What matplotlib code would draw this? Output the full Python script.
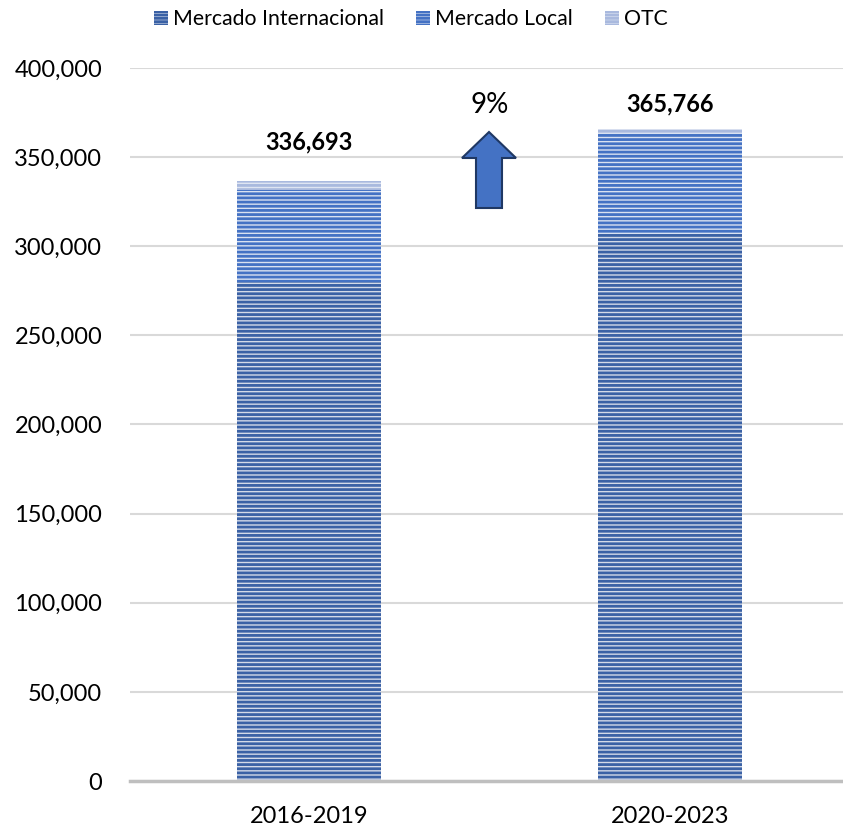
import matplotlib
matplotlib.use("Agg")
import matplotlib.pyplot as plt
from matplotlib.patches import Patch, Polygon
from matplotlib.ticker import FuncFormatter
import numpy as np

categories = ["2016-2019", "2020-2023"]
series_names = ["Mercado Internacional", "Mercado Local", "OTC"]
internacional = [280000, 307000]
local = [51693, 56266]
otc = [5000, 2500]
totals = [336693, 365766]
change_label = "9%"
yticks = [0, 50000, 100000, 150000, 200000, 250000, 300000, 350000, 400000]

plt.rcParams['font.family'] = ['Lato', 'DejaVu Sans']
plt.rcParams['hatch.linewidth'] = 2.0

W, H = 843, 830
fig = plt.figure(figsize=(W / 100, H / 100), dpi=100)
ax = fig.add_axes([130 / W, 1 - 781 / H, 713 / W, 713 / H])

stripe = ['#3A61A5', '#4472C4', '#A9B9DE']
back = ['#D3DAE8', '#DAE2F1', '#DFE5F2']
x = np.arange(len(categories))
width = 0.4
bottom = np.zeros(len(categories))
for vals, sc, bc in zip([internacional, local, otc], stripe, back):
    ax.bar(x, vals, width, bottom=bottom, color=bc, edgecolor=sc,
           hatch='----', linewidth=0, zorder=3)
    bottom += np.array(vals)

offsets = [20, 10]
for xi, t, off in zip(x, totals, offsets):
    ax.annotate(f"{t:,}", (xi, t), xytext=(0, off), textcoords='offset points',
                ha='center', va='bottom', fontsize=17, fontweight='bold')

ax.set_xlim(-0.496, 1.479)
ax.set_ylim(0, 400000)
ax.set_yticks(yticks)
ax.yaxis.set_major_formatter(FuncFormatter(lambda v, p: f"{int(v):,}"))
ax.set_xticks(x)
ax.set_xticklabels(categories)
ax.tick_params(axis='both', length=0, labelsize=17)
ax.tick_params(axis='y', pad=20)
ax.tick_params(axis='x', pad=18)
ax.grid(axis='y', color='#D9D9D9', linewidth=1.5, zorder=0)
ax.set_axisbelow(True)
for s in ['top', 'right', 'left']:
    ax.spines[s].set_visible(False)
ax.spines['bottom'].set_color('#BFBFBF')
ax.spines['bottom'].set_linewidth(2.5)
ax.spines['bottom'].set_zorder(4)

# arrow
pts = [(489, 132), (516, 158), (502, 158), (502, 208), (476, 208), (476, 158), (462, 158)]
poly = Polygon([(px / W, 1 - py / H) for px, py in pts], closed=True,
               transform=fig.transFigure, facecolor='#4472C4', edgecolor='#1F3864',
               linewidth=1.5, zorder=5)
fig.patches.append(poly)
fig.text(490 / W, 1 - 105 / H, change_label, ha='center', va='center', fontsize=20)

handles = [Patch(facecolor=bc, edgecolor=sc, hatch='-----', linewidth=0, label=n)
           for n, sc, bc in zip(series_names, stripe, back)]
fig.legend(handles=handles, loc='upper center', bbox_to_anchor=(411 / W, 1.012), ncol=3,
           frameon=False, fontsize=15.3, handlelength=0.65, handleheight=0.65,
           handletextpad=0.25, columnspacing=1.5)

fig.savefig("out.png", dpi=100)
